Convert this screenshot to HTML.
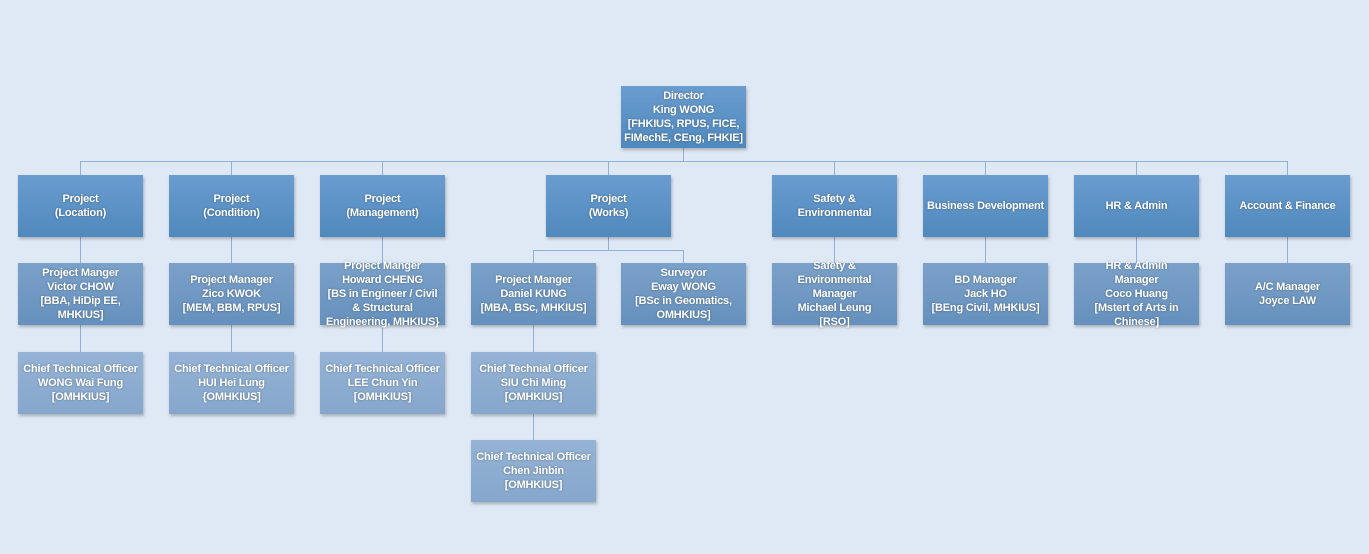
<!DOCTYPE html>
<html><head><meta charset="utf-8"><style>
body{margin:0;width:1369px;height:554px;background:#dfe9f5;position:relative;overflow:hidden;font-family:"Liberation Sans",sans-serif;}
.b{position:absolute;width:125px;height:62px;display:flex;align-items:center;justify-content:center;text-align:center;color:#fff;font-weight:bold;font-size:11px;line-height:14px;letter-spacing:-0.2px;box-shadow:1px 2px 3px rgba(0,0,0,0.25);text-shadow:0 0 2px rgba(0,0,0,0.35);white-space:nowrap;}
.l1{background:linear-gradient(#6a9ccf,#5089bd);}
.l2{background:linear-gradient(#7aa1c9,#6690bd);}
.l3{background:linear-gradient(#94b3d5,#86a6cc);}
.h{position:absolute;height:1px;background:#8fb0d8;}
.v{position:absolute;width:1px;background:#8fb0d8;}
</style></head><body>
<div class="v" style="left:683px;top:148px;height:13px"></div>
<div class="h" style="left:80px;top:161px;width:1208px"></div>
<div class="v" style="left:80px;top:161px;height:253px"></div>
<div class="v" style="left:231px;top:161px;height:253px"></div>
<div class="v" style="left:382px;top:161px;height:253px"></div>
<div class="v" style="left:608px;top:161px;height:89px"></div>
<div class="h" style="left:533px;top:250px;width:151px"></div>
<div class="v" style="left:533px;top:250px;height:252px"></div>
<div class="v" style="left:683px;top:250px;height:14px"></div>
<div class="v" style="left:834px;top:161px;height:103px"></div>
<div class="v" style="left:985px;top:161px;height:103px"></div>
<div class="v" style="left:1136px;top:161px;height:103px"></div>
<div class="v" style="left:1287px;top:161px;height:103px"></div>

<div class="b l1" style="left:621px;top:86px">Director<br>King WONG<br>[FHKIUS, RPUS, FICE,<br>FIMechE, CEng, FHKIE]</div>

<div class="b l1" style="left:18px;top:175px">Project<br>(Location)</div>
<div class="b l1" style="left:169px;top:175px">Project<br>(Condition)</div>
<div class="b l1" style="left:320px;top:175px">Project<br>(Management)</div>
<div class="b l1" style="left:546px;top:175px">Project<br>(Works)</div>
<div class="b l1" style="left:772px;top:175px">Safety &amp;<br>Environmental</div>
<div class="b l1" style="left:923px;top:175px">Business Development</div>
<div class="b l1" style="left:1074px;top:175px">HR &amp; Admin</div>
<div class="b l1" style="left:1225px;top:175px">Account &amp; Finance</div>

<div class="b l2" style="left:18px;top:263px">Project Manger<br>Victor CHOW<br>[BBA, HiDip EE,<br>MHKIUS]</div>
<div class="b l2" style="left:169px;top:263px">Project Manager<br>Zico KWOK<br>[MEM, BBM, RPUS]</div>
<div class="b l2" style="left:320px;top:263px">Project Manger<br>Howard CHENG<br>[BS in Engineer / Civil<br>&amp; Structural<br>Engineering, MHKIUS}</div>
<div class="b l2" style="left:471px;top:263px">Project Manger<br>Daniel KUNG<br>[MBA, BSc, MHKIUS]</div>
<div class="b l2" style="left:621px;top:263px">Surveyor<br>Eway WONG<br>[BSc in Geomatics,<br>OMHKIUS]</div>
<div class="b l2" style="left:772px;top:263px">Safety &amp;<br>Environmental<br>Manager<br>Michael Leung<br>[RSO]</div>
<div class="b l2" style="left:923px;top:263px">BD Manager<br>Jack HO<br>[BEng Civil, MHKIUS]</div>
<div class="b l2" style="left:1074px;top:263px">HR &amp; Admin<br>Manager<br>Coco Huang<br>[Mstert of Arts in<br>Chinese]</div>
<div class="b l2" style="left:1225px;top:263px">A/C Manager<br>Joyce LAW</div>

<div class="b l3" style="left:18px;top:352px">Chief Technical Officer<br>WONG Wai Fung<br>[OMHKIUS]</div>
<div class="b l3" style="left:169px;top:352px">Chief Technical Officer<br>HUI Hei Lung<br>{OMHKIUS]</div>
<div class="b l3" style="left:320px;top:352px">Chief Technical Officer<br>LEE Chun Yin<br>[OMHKIUS]</div>
<div class="b l3" style="left:471px;top:352px">Chief Technial Officer<br>SIU Chi Ming<br>[OMHKIUS]</div>
<div class="b l3" style="left:471px;top:440px">Chief Technical Officer<br>Chen Jinbin<br>[OMHKIUS]</div>
</body></html>
